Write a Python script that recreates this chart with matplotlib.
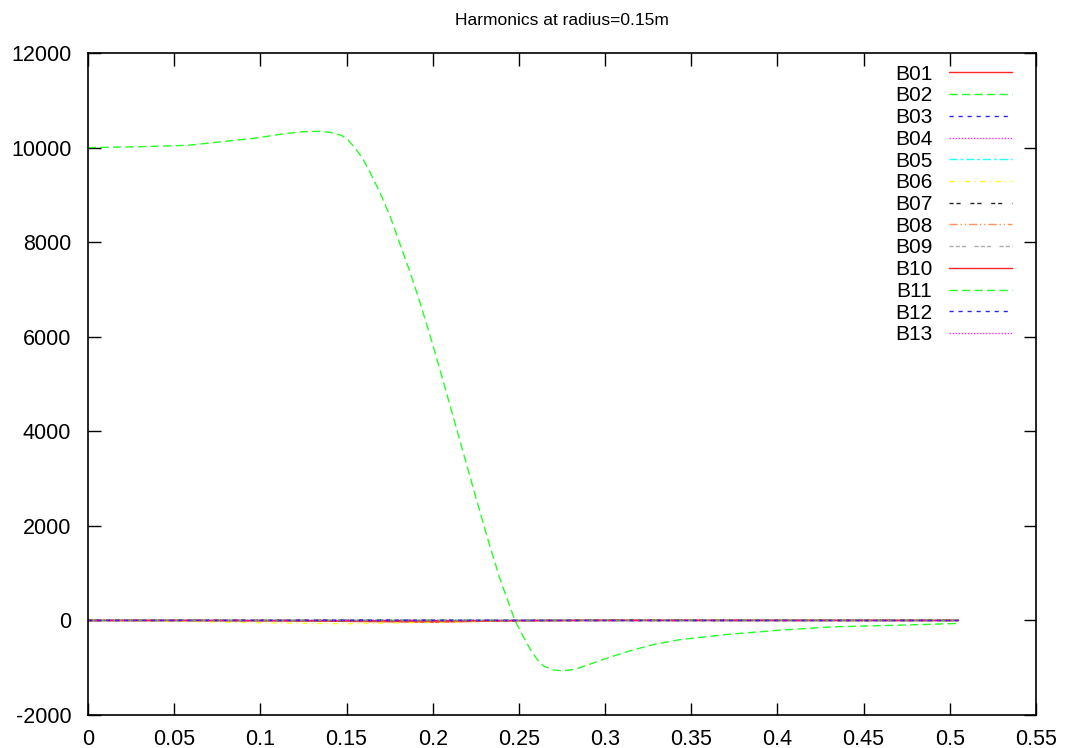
import numpy as np
import matplotlib.pyplot as plt

plt.rcParams['font.family'] = ['Liberation Sans', 'DejaVu Sans']
plt.rcParams['axes.unicode_minus'] = False

# B02 (dominant harmonic)
x_b02 = [0.0, 0.03, 0.058, 0.0967, 0.115, 0.1257, 0.135, 0.141, 0.147,
         0.151, 0.155, 0.1595, 0.1636, 0.1694, 0.1752, 0.181, 0.1868,
         0.1926, 0.2003, 0.2081, 0.2158, 0.2235, 0.2313, 0.239, 0.2477,
         0.2525, 0.2564, 0.2605, 0.2642, 0.2695, 0.2758, 0.283, 0.2912,
         0.3025, 0.3144, 0.328, 0.3435, 0.3725, 0.4015, 0.432, 0.471, 0.505]
y_b02 = [10000, 10020, 10050, 10200, 10300, 10340, 10345, 10320, 10260,
         10160, 9990, 9760, 9480, 9050, 8556, 7960, 7370,
         6730, 5800, 4800, 3800, 2800, 1800, 880, 0,
         -340, -600, -820, -960, -1045, -1066, -1030, -924,
         -780, -643, -510, -405, -290, -205, -135, -100, -63]

# the remaining harmonics stay close to zero
x_small = [0.0, 0.05, 0.1, 0.15, 0.2, 0.25, 0.3, 0.4, 0.505]
small = {
    'B01': [0, 0, -5, -20, -35, -5, 5, 2, 0],
    'B03': [0, 1, 3, 6, 5, -2, 0, 0, 0],
    'B04': [0, 0, 1, 3, 2, -1, 0, 0, 0],
    'B05': [0, 0, -2, -4, -3, 1, 0, 0, 0],
    'B06': [0, -15, -50, -70, -40, -5, 0, 0, 0],
    'B07': [0, 0, 1, 2, 1, 0, 0, 0, 0],
    'B08': [0, -2, -8, -15, -20, -4, 0, 0, 0],
    'B09': [0, 0, 0, 1, 1, 0, 0, 0, 0],
    'B10': [0, 0, -1, -4, -8, -1, 0, 0, 0],
    'B11': [0, 0, 0, 1, 2, 0, 0, 0, 0],
    'B12': [0, 0, 0, -1, -1, 0, 0, 0, 0],
    'B13': [0, 0, 0, 0, 0, 0, 0, 0, 0],
}

labels = ['B01', 'B02', 'B03', 'B04', 'B05', 'B06', 'B07', 'B08', 'B09',
          'B10', 'B11', 'B12', 'B13']
colors = ['#ff0000', '#00ff00', '#0000ff', '#ff00ff', '#00ffff', '#ffff00',
          '#000000', '#ff8040', '#a0a0a0',
          '#ff0000', '#00ff00', '#0000ff', '#ff00ff']
dashes = [(), (6, 3), (3, 3.5), (1, 1.2), (6, 2, 2, 2), (4, 3, 1, 3),
          (3, 2, 3, 7), (6, 2, 1, 2, 1, 2), (3, 1.5, 3, 1.5, 3, 6),
          (), (6, 3), (3, 3.5), (1, 1.2)]

fig = plt.figure(figsize=(10.73, 7.48), dpi=100)
ax = fig.add_axes([0.082, 0.0441, 0.8835, 0.8849])

for lab, col, ds in zip(labels, colors, dashes):
    if lab == 'B02':
        xs, ys = x_b02, y_b02
    else:
        xs, ys = x_small, small[lab]
    line, = ax.plot(xs, ys, color=col, lw=1.0, alpha=0.85, label=lab)
    if ds:
        line.set_dashes(ds)

ax.set_xlim(0, 0.55)
ax.set_ylim(-2000, 12000)
ax.set_xticks(np.arange(0, 0.551, 0.05))
ax.set_xticklabels(['0', '0.05', '0.1', '0.15', '0.2', '0.25', '0.3',
                    '0.35', '0.4', '0.45', '0.5', '0.55'])
ax.set_yticks(np.arange(-2000, 12001, 2000))
ax.tick_params(direction='in', length=9, width=1, top=True, right=True,
               labelsize=15.5)
ax.tick_params(axis='y', pad=12)
ax.tick_params(axis='x', pad=10)
for sp in ax.spines.values():
    sp.set_linewidth(1.2)

ax.set_title('Harmonics at radius=0.15m', fontsize=12.5, pad=20)
ax.legend(loc='upper right', frameon=False, markerfirst=False, fontsize=15,
          handlelength=3.0, handletextpad=0.8, labelspacing=0.13,
          borderaxespad=0.0, bbox_to_anchor=(0.983, 0.995))

fig.savefig('out.png', dpi=100)
